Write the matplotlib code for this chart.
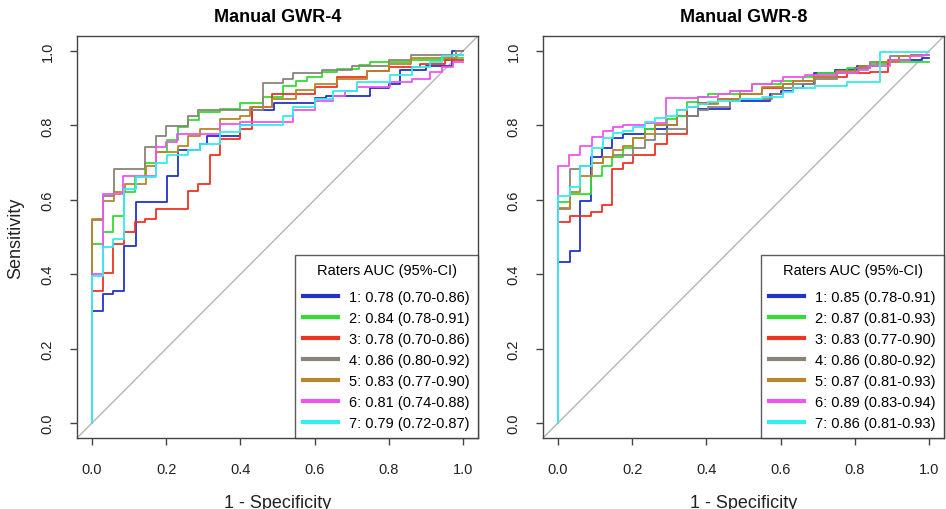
import matplotlib
matplotlib.use("Agg")
import matplotlib.pyplot as plt

plt.rcParams['font.family'] = ['Liberation Sans', 'DejaVu Sans']

# colours of the seven raters
rater_colors = ['#2233cc', '#33dd33', '#ee3322', '#8b8378', '#b8862b', '#ee55ee', '#33eeee']

# ---- Manual GWR-4 : ROC steps (1 - specificity, sensitivity) ----
g4_r1_x = [0, .029, .057, .087, .12, .203, .232, .29, .31, .40, .43, .49, .60, .63, .75, .80, .83, .90, .97, 1.0]
g4_r1_y = [0, .30, .347, .356, .477, .595, .665, .735, .75, .772, .80, .84, .86, .873, .88, .90, .91, .95, .96, 1.0]
g4_r2_x = [0, .029, .057, .087, .116, .143, .173, .203, .232, .259, .288, .345, .40, .46, .516, .55, .58, .62, .66, .72, .75, .86, .96, 1.0]
g4_r2_y = [0, .48, .513, .557, .62, .66, .70, .728, .76, .795, .813, .835, .844, .86, .875, .907, .918, .93, .943, .952, .962, .971, .976, .98]
g4_r3_x = [0, .029, .057, .087, .116, .143, .174, .26, .287, .317, .345, .40, .43, .484, .60, .66, .74, .80, .884, .95, 1.0]
g4_r3_y = [0, .356, .403, .481, .513, .539, .548, .575, .624, .642, .719, .763, .79, .849, .884, .902, .929, .947, .956, .965, .975]
g4_r4_x = [0, .029, .059, .143, .174, .20, .26, .287, .462, .516, .543, .62, .70, .80, .86, .98, 1.0]
g4_r4_y = [0, .547, .61, .683, .741, .771, .798, .824, .84, .913, .925, .94, .95, .96, .976, .99, 1.0]
g4_r5_x = [0, .029, .059, .088, .146, .173, .232, .259, .29, .345, .40, .426, .484, .55, .60, .66, .74, .80, .86, .98, 1.0]
g4_r5_y = [0, .548, .598, .62, .642, .692, .728, .745, .772, .79, .817, .826, .849, .87, .895, .91, .925, .947, .965, .98, .99]
g4_r6_x = [0, .029, .085, .173, .20, .228, .345, .40, .543, .60, .65, .682, .713, .803, .862, .911, .943, .974, 1.0]
g4_r6_y = [0, .40, .615, .665, .741, .754, .777, .804, .808, .84, .866, .88, .893, .902, .916, .925, .943, .956, .97]
g4_r7_x = [0, .029, .057, .087, .119, .173, .203, .26, .29, .345, .40, .516, .543, .60, .65, .713, .803, .862, .911, .943, .974, 1.0]
g4_r7_y = [0, .396, .472, .495, .629, .66, .70, .72, .735, .75, .781, .80, .826, .849, .87, .893, .916, .935, .956, .97, .985, .99]
g4_labels = ['1: 0.78 (0.70-0.86)', '2: 0.84 (0.78-0.91)', '3: 0.78 (0.70-0.86)', '4: 0.86 (0.80-0.92)',
             '5: 0.83 (0.77-0.90)', '6: 0.81 (0.74-0.88)', '7: 0.79 (0.72-0.87)']

# ---- Manual GWR-8 ----
g8_r1_x = [0, .032, .059, .089, .118, .147, .176, .234, .293, .32, .378, .464, .571, .60, .634, .66, .69, .746, .805, .86, .92, .98, 1.0]
g8_r1_y = [0, .432, .463, .598, .715, .74, .765, .777, .79, .80, .826, .844, .866, .884, .893, .90, .91, .941, .95, .96, .97, .975, .98]
g8_r2_x = [0, .032, .089, .118, .147, .176, .203, .234, .261, .293, .32, .347, .378, .405, .49, .522, .60, .66, .70, .78, .84, .89, .92, 1.0]
g8_r2_y = [0, .595, .616, .665, .692, .715, .74, .765, .79, .80, .817, .826, .862, .876, .885, .893, .91, .918, .93, .94, .955, .965, .97, .97]
g8_r3_x = [0, .032, .089, .118, .147, .176, .203, .261, .293, .347, .378, .43, .49, .55, .607, .634, .69, .78, .84, .89, .92, .95, 1.0]
g8_r3_y = [0, .539, .557, .566, .586, .683, .70, .72, .75, .777, .85, .86, .87, .885, .90, .91, .92, .93, .94, .943, .975, .985, .99]
g8_r4_x = [0, .032, .06, .092, .121, .148, .202, .234, .261, .293, .347, .378, .405, .464, .49, .576, .607, .634, .693, .751, .80, .84, .894, .95, 1.0]
g8_r4_y = [0, .575, .683, .69, .70, .714, .72, .74, .76, .777, .79, .826, .84, .85, .866, .87, .884, .90, .91, .925, .94, .955, .97, .985, .99]
g8_r5_x = [0, .032, .059, .092, .121, .148, .175, .202, .234, .261, .32, .347, .378, .43, .49, .55, .607, .634, .69, .75, .81, .86, .92, .95, 1.0]
g8_r5_y = [0, .577, .62, .665, .70, .714, .735, .745, .765, .777, .80, .84, .85, .858, .87, .884, .902, .91, .92, .93, .945, .96, .97, .985, .99]
g8_r6_x = [0, .031, .06, .092, .121, .148, .175, .234, .292, .377, .43, .464, .522, .576, .607, .666, .751, .809, .836, .894, .948, .98, 1.0]
g8_r6_y = [0, .692, .719, .745, .77, .786, .795, .80, .805, .873, .876, .885, .893, .91, .92, .93, .935, .94, .95, .96, .975, .985, .99]
g8_r7_x = [0, .032, .059, .092, .121, .148, .175, .202, .234, .261, .292, .32, .347, .378, .405, .43, .49, .55, .607, .634, .693, .78, .868, 1.0]
g8_r7_y = [0, .611, .634, .69, .74, .765, .78, .786, .795, .808, .82, .826, .84, .85, .858, .862, .866, .87, .876, .89, .90, .905, .917, .996]
g8_labels = ['1: 0.85 (0.78-0.91)', '2: 0.87 (0.81-0.93)', '3: 0.83 (0.77-0.90)', '4: 0.86 (0.80-0.92)',
             '5: 0.87 (0.81-0.93)', '6: 0.89 (0.83-0.94)', '7: 0.86 (0.81-0.93)']

ticks = [0.0, 0.2, 0.4, 0.6, 0.8, 1.0]
tick_labels = ['0.0', '0.2', '0.4', '0.6', '0.8', '1.0']

g4_curves = [(g4_r1_x, g4_r1_y), (g4_r2_x, g4_r2_y), (g4_r3_x, g4_r3_y), (g4_r4_x, g4_r4_y),
             (g4_r5_x, g4_r5_y), (g4_r6_x, g4_r6_y), (g4_r7_x, g4_r7_y)]
g8_curves = [(g8_r1_x, g8_r1_y), (g8_r2_x, g8_r2_y), (g8_r3_x, g8_r3_y), (g8_r4_x, g8_r4_y),
             (g8_r5_x, g8_r5_y), (g8_r6_x, g8_r6_y), (g8_r7_x, g8_r7_y)]

fig = plt.figure(figsize=(9.46, 5.10), dpi=100)
fig.patch.set_facecolor('white')

ax1 = fig.add_axes([77 / 946, 1 - 439 / 510, 401 / 946, 402 / 510])
ax2 = fig.add_axes([543 / 946, 1 - 439 / 510, 401 / 946, 402 / 510])


def roc_panel(ax, curves, labels, title, ylabel):
    ax.plot([-0.04, 1.04], [-0.04, 1.04], color='#b5b5b5', lw=1.0, zorder=1)
    for (xs, ys), col, lab in zip(curves, rater_colors, labels):
        ax.plot(xs, ys, drawstyle='steps-pre', color=col, lw=1.3, label=lab, zorder=2)
    ax.set_xlim(-0.04, 1.04)
    ax.set_ylim(-0.04, 1.04)
    ax.set_xticks(ticks)
    ax.set_xticklabels(tick_labels)
    ax.set_yticks(ticks)
    ax.set_yticklabels(tick_labels, rotation=90, va='center')
    ax.tick_params(direction='out', length=5, width=1, color='#444444',
                   labelsize=10.5, labelcolor='#222222')
    ax.tick_params(axis='x', pad=12)
    ax.tick_params(axis='y', pad=11)
    for s in ax.spines.values():
        s.set_color('#444444')
        s.set_linewidth(1.0)
    ax.set_title(title, fontsize=13, fontweight='bold', pad=11)
    ax.set_xlabel('1 - Specificity', fontsize=13, labelpad=13, color='#222222')
    if ylabel:
        ax.set_ylabel('Sensitivity', fontsize=13, labelpad=12, color='#222222')
    leg = ax.legend(loc='lower right', borderaxespad=0, fancybox=False, frameon=True,
                    edgecolor='#333333', fontsize=10.5, title='Raters AUC (95%-CI)',
                    title_fontsize=10.5, handlelength=2.4, handletextpad=0.75,
                    labelspacing=0.48, borderpad=0.55)
    leg._legend_box.sep = 9
    leg.get_frame().set_linewidth(1.0)
    for line in leg.get_lines():
        line.set_linewidth(3.0)


roc_panel(ax1, g4_curves, g4_labels, 'Manual GWR-4', True)
roc_panel(ax2, g8_curves, g8_labels, 'Manual GWR-8', False)

plt.savefig('out.png', dpi=100)
